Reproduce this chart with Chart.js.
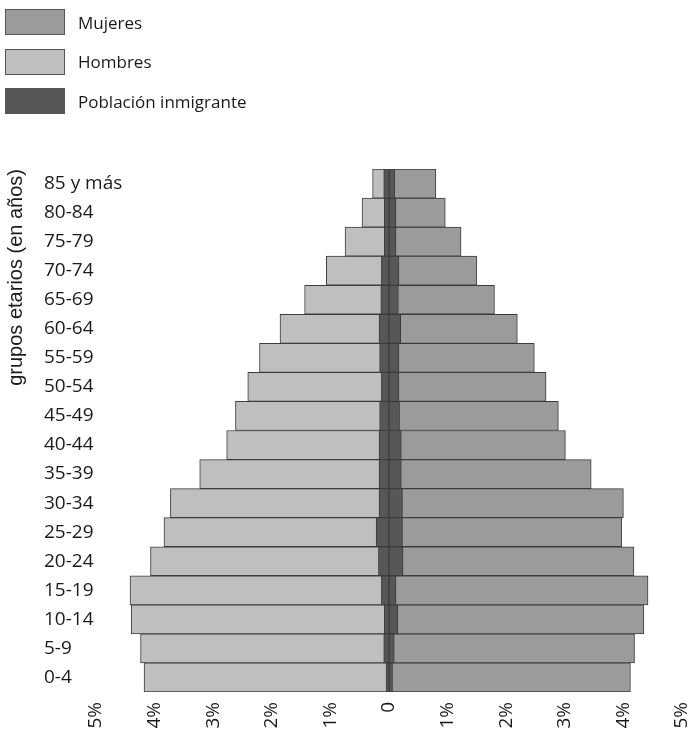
<!DOCTYPE html>
<html lang="es">
<head>
<meta charset="utf-8">
<title>Pirámide de población</title>
<script src="https://cdn.jsdelivr.net/npm/chart.js@4.4.1/dist/chart.umd.min.js"></script>
<style>
  body { margin: 0; background: #fff; font-family: 'Open Sans', sans-serif; }
  #wrap { position: relative; width: 692px; height: 735px; }
  #legend { position: absolute; left: 5px; top: 9px; }
  .item { display: flex; align-items: center; height: 26px; margin-bottom: 13.5px; font-size: 17px; color: #1a1a1a; }
  .box { width: 58px; height: 24px; border: 1px solid #555; margin-right: 13px; }
</style>
</head>
<body>
<div id="wrap">
  <canvas id="chart" width="692" height="735"></canvas>
  <div id="legend"></div>
</div>
<script>
// grupos de edad, de abajo (0-4) hacia arriba
const grupos = ['0-4', '5-9', '10-14', '15-19', '20-24', '25-29', '30-34', '35-39', '40-44',
  '45-49', '50-54', '55-59', '60-64', '65-69', '70-74', '75-79', '80-84', '85 y más'];

// % de la población total
const hombres = [4.18, 4.24, 4.40, 4.42, 4.07, 3.84, 3.73, 3.23, 2.77, 2.62, 2.41, 2.21, 1.86, 1.44, 1.07, 0.75, 0.46, 0.28];
const mujeres = [4.12, 4.19, 4.35, 4.42, 4.18, 3.97, 4.00, 3.45, 3.01, 2.89, 2.68, 2.48, 2.19, 1.80, 1.50, 1.23, 0.96, 0.80];
const inmigrantesHombres = [0.05, 0.09, 0.08, 0.13, 0.18, 0.22, 0.17, 0.17, 0.17, 0.16, 0.13, 0.16, 0.17, 0.14, 0.13, 0.08, 0.08, 0.09];
const inmigrantesMujeres = [0.06, 0.09, 0.15, 0.12, 0.24, 0.23, 0.23, 0.21, 0.21, 0.18, 0.17, 0.17, 0.20, 0.16, 0.17, 0.12, 0.12, 0.10];

const xTicks = [-5, -4, -3, -2, -1, 0, 1, 2, 3, 4, 5];
const xTickLabels = ['5%', '4%', '3%', '2%', '1%', '0', '1%', '2%', '3%', '4%', '5%'];

const legendLabels = ['Mujeres', 'Hombres', 'Población inmigrante'];

const colors = { mujeres: '#9b9b9b', hombres: '#bfbfbf', inmigrantes: '#575757', border: '#3c3c3c' };
const fontFamily = "'Open Sans', sans-serif";
const textColor = '#1a1a1a';

function barSet(label, data, color) {
  return {
    label,
    data,
    backgroundColor: color,
    borderColor: colors.border,
    borderWidth: 1,
    borderSkipped: false,
    grouped: false,
    barPercentage: 1,
    categoryPercentage: 1
  };
}

const datasets = [
  barSet('Población inmigrante', inmigrantesHombres.map(v => -v), colors.inmigrantes),
  barSet('Población inmigrante', inmigrantesMujeres, colors.inmigrantes),
  barSet('Mujeres', mujeres, colors.mujeres),
  barSet('Hombres', hombres.map(v => -v), colors.hombres)
];

const yLabelWidth = 52;

const chart = new Chart(document.getElementById('chart'), {
  type: 'bar',
  data: { labels: grupos, datasets },
  options: {
    indexAxis: 'y',
    responsive: false,
    animation: false,
    layout: { padding: { top: 169, right: 10, left: 0, bottom: 0 } },
    plugins: { legend: { display: false }, tooltip: { enabled: false } },
    scales: {
      x: {
        type: 'linear',
        min: -5,
        max: 5,
        grid: { display: false, drawTicks: false },
        border: { display: false },
        afterBuildTicks: s => { s.ticks = xTicks.map(v => ({ value: v })); },
        ticks: {
          minRotation: 90,
          maxRotation: 90,
          autoSkip: false,
          padding: 10,
          color: textColor,
          font: { family: fontFamily, size: 19 },
          callback: (v, i) => xTickLabels[i]
        },
        afterFit: s => { s.height = 43; s.paddingLeft = 0; s.paddingRight = 0; }
      },
      y: {
        reverse: true,
        position: 'left',
        weight: 0,
        grid: { display: false, drawTicks: false },
        border: { display: false },
        // mirrored so long labels are not clipped; pulled back to the axis' left edge
        ticks: { mirror: true, padding: -yLabelWidth, autoSkip: false, color: textColor, font: { family: fontFamily, size: 19 } },
        afterFit: s => { s.width = yLabelWidth; }
      },
      yTitle: {
        type: 'category',
        axis: 'y',
        position: 'left',
        weight: 1,
        grid: { display: false, drawTicks: false },
        border: { display: false },
        ticks: { display: false },
        title: {
          display: true,
          text: 'grupos etarios (en años)',
          align: 'end',
          color: textColor,
          font: { family: "'Liberation Sans', Arial, sans-serif", size: 20 },
          padding: { top: 4, bottom: 0 }
        },
        afterFit: s => { s.width = 44; }
      }
    }
  }
});

// leyenda vertical arriba a la izquierda
const legend = document.getElementById('legend');
legendLabels.forEach(label => {
  const ds = chart.data.datasets.find(d => d.label === label);
  const item = document.createElement('div');
  item.className = 'item';
  item.innerHTML = `<span class="box" style="background:${ds.backgroundColor}"></span><span>${label}</span>`;
  legend.appendChild(item);
});
</script>
</body>
</html>
